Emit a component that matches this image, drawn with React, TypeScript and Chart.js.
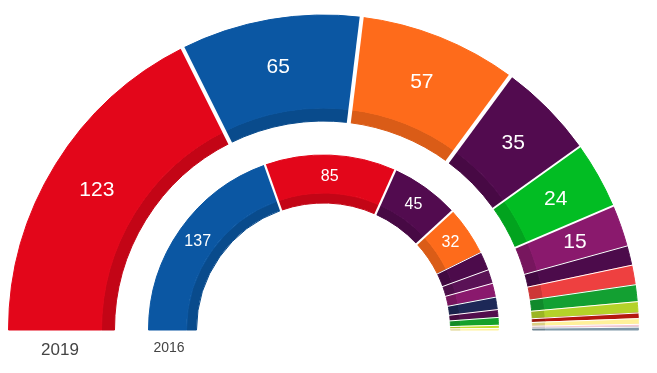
import React, { useEffect, useRef } from "react";
import { Chart, registerables } from "chart.js";

Chart.register(...registerables);

// ---- Data ----
const parties2019 = ["PSOE", "PP", "Cs", "Unidas Podemos", "Vox", "ERC", "En Comú Podem", "JxCat", "PNV", "EH Bildu", "NA+", "CC", "Compromís", "PRC"];
const seats2019 = [123, 65, 57, 35, 24, 15, 7, 7, 6, 4, 2, 2, 1, 1];
const colors2019 = ["#e3061a", "#0b57a3", "#fe6b1b", "#520b4f", "#02bd23", "#8a196d", "#4c0b4b", "#ee4040", "#13a032", "#b4d229", "#b5170f", "#fff19a", "#f6c8d2", "#7f97a8"];

const parties2016 = ["PP", "PSOE", "Unidos Podemos", "Cs", "En Comú Podem", "Compromís-Podemos", "ERC", "CDC", "En Marea", "PNV", "EH Bildu", "CC"];
const seats2016 = [137, 85, 45, 32, 12, 9, 9, 8, 5, 5, 2, 1];
const colors2016 = ["#0b57a3", "#e3061a", "#520b4f", "#fe6b1b", "#4c0b4b", "#5a1256", "#8a196d", "#1d2857", "#520e4d", "#15a12b", "#c3dd2e", "#fff19a"];

const yearLabels = ["2019", "2016"];

function darken(hex: string, f: number) {
  const n = parseInt(hex.slice(1), 16);
  const r = Math.round(((n >> 16) & 255) * f);
  const g = Math.round(((n >> 8) & 255) * f);
  const b = Math.round((n & 255) * f);
  return `rgb(${r},${g},${b})`;
}

const FONT = "'Liberation Sans', Arial, Helvetica, sans-serif";

const ringPlugin = {
  id: "ringDecor",
  afterDatasetsDraw(chart: any) {
    const ctx = chart.ctx as CanvasRenderingContext2D;
    const rings = [
      { main: 0, dark: 1, values: seats2019, minLabel: 15, font: `21px ${FONT}`,
        sep: (a: number, b: number) => (Math.min(a, b) >= 30 ? 4 : Math.min(a, b) >= 15 ? 2 : 1) },
      { main: 3, dark: 4, values: seats2016, minLabel: 30, font: `16px ${FONT}`,
        sep: (a: number, b: number) => (Math.min(a, b) >= 30 ? 2.2 : 1) },
    ];
    for (const ring of rings) {
      const mMeta = chart.getDatasetMeta(ring.main);
      const dMeta = chart.getDatasetMeta(ring.dark);
      mMeta.data.forEach((arc: any, i: number) => {
        if (i === 0) return;
        const p = arc.getProps(["x", "y", "startAngle", "outerRadius"], true);
        const inner = dMeta.data[i].getProps(["innerRadius"], true).innerRadius;
        const c = Math.cos(p.startAngle), s = Math.sin(p.startAngle);
        ctx.save();
        ctx.strokeStyle = "#ffffff";
        ctx.lineWidth = ring.sep(ring.values[i - 1], ring.values[i]);
        ctx.beginPath();
        ctx.moveTo(p.x + c * (inner - 2), p.y + s * (inner - 2));
        ctx.lineTo(p.x + c * (p.outerRadius + 2), p.y + s * (p.outerRadius + 2));
        ctx.stroke();
        ctx.restore();
      });
      mMeta.data.forEach((arc: any, i: number) => {
        if (ring.values[i] < ring.minLabel) return;
        const p = arc.getProps(["x", "y", "startAngle", "endAngle", "innerRadius", "outerRadius"], true);
        const a = (p.startAngle + p.endAngle) / 2;
        const r = (p.innerRadius + p.outerRadius) / 2 - 2;
        ctx.save();
        ctx.fillStyle = "#ffffff";
        ctx.font = ring.font;
        ctx.textAlign = "center";
        ctx.textBaseline = "middle";
        ctx.fillText(String(ring.values[i]), p.x + Math.cos(a) * r, p.y + Math.sin(a) * r);
        ctx.restore();
      });
    }
  },
};

export default function App() {
  const ref = useRef<HTMLCanvasElement>(null);
  useEffect(() => {
    if (!ref.current) return;
    const dark2019 = colors2019.map((c) => darken(c, 0.86));
    const dark2016 = colors2016.map((c) => darken(c, 0.86));
    const chart = new Chart(ref.current, {
      type: "doughnut",
      data: {
        labels: parties2019,
        datasets: [
          { label: "2019", data: seats2019, backgroundColor: colors2019, borderColor: colors2019, borderWidth: 1, weight: 93 },
          { label: "2019b", data: seats2019, backgroundColor: dark2019, borderColor: dark2019, borderWidth: 1, weight: 13 },
          { label: "gap", data: [1], backgroundColor: ["rgba(0,0,0,0)"], borderWidth: 0, weight: 34 },
          { label: "2016", data: seats2016, backgroundColor: colors2016, borderColor: colors2016, borderWidth: 1, weight: 38 },
          { label: "2016b", data: seats2016, backgroundColor: dark2016, borderColor: dark2016, borderWidth: 1, weight: 10 },
        ] as any,
      },
      options: {
        responsive: false,
        animation: false,
        events: [],
        circumference: 180,
        rotation: -90,
        radius: 315,
        cutout: "40.317%",
        layout: { padding: { top: 15, bottom: 43, left: 0, right: 10 } },
        plugins: { legend: { display: false }, tooltip: { enabled: false } },
      } as any,
      plugins: [ringPlugin],
    });
    return () => chart.destroy();
  }, []);

  return (
    <div style={{ position: "fixed", left: 0, top: 0, width: 657, height: 373, background: "#fff" }}>
      <canvas ref={ref} width={657} height={373} style={{ position: "absolute", left: 0, top: 0, width: 657, height: 373 }} />
      <div style={{ position: "absolute", left: 20, width: 80, top: 340, textAlign: "center", font: `17px ${FONT}`, color: "#444" }}>{yearLabels[0]}</div>
      <div style={{ position: "absolute", left: 130, width: 78, top: 339, textAlign: "center", font: `14px ${FONT}`, color: "#444" }}>{yearLabels[1]}</div>
    </div>
  );
}
